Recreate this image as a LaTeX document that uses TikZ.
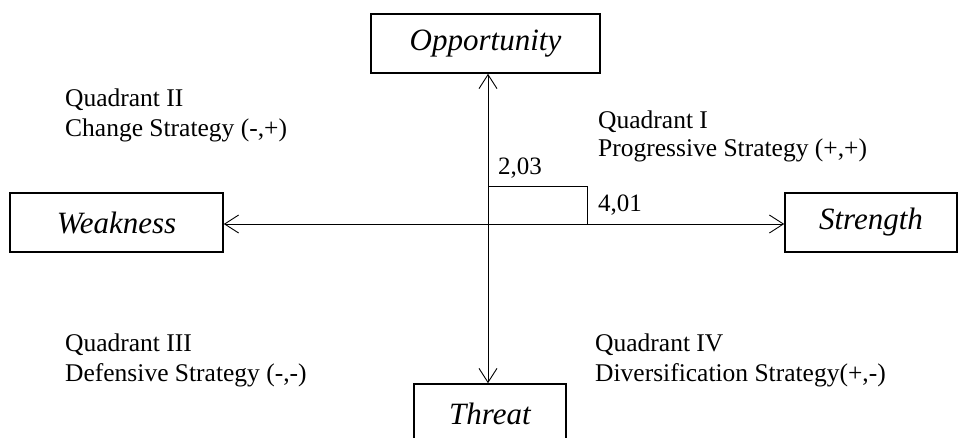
\documentclass[tikz,border=0pt]{standalone}
\usepackage{fontspec}
\setmainfont{Liberation Serif}
\usetikzlibrary{arrows.meta}
\begin{document}
\begin{tikzpicture}[x=1pt,y=-1pt,
  factor/.style={draw,line width=1.6pt,minimum height=59pt,inner sep=0pt,
    font=\fontsize{31}{37}\selectfont\itshape},
  qlabel/.style={anchor=west,align=left,inner sep=0pt,
    font=\fontsize{25.5}{30}\selectfont},
  axis/.style={line width=0.9pt,{Straight Barb[length=14pt,width=18pt]}-{Straight Barb[length=14pt,width=18pt]}},
  val/.style={inner sep=0pt,font=\fontsize{25}{30}\selectfont}]
\useasboundingbox (0,0) rectangle (958,437);
% factor boxes
\node[factor,minimum width=229pt] (opp) at (485.5,43.5) {Opportunity};
\node[factor,minimum width=213pt] (weak) at (116.5,222.5) {Weakness};
\node[factor,minimum width=172pt] (str) at (871,222.5) {Strength};
\node[factor,minimum width=152pt] (thr) at (490,413.5) {Threat};
% axes
\coordinate (o) at (488,224);
\draw[axis] (weak.east |- o) -- (str.west |- o);
\draw[axis] (o |- opp.south) -- (o |- thr.north);
% score rectangle
\coordinate (c1) at (488,186);
\coordinate (c2) at (587,186);
\coordinate (c3) at (587,224);
\draw[line width=0.9pt] (c1) -- (c2) -- (c3);
\node[val,anchor=south west] (v1) at (498,179) {2,03};
\node[val,anchor=south west] (v2) at (598,216) {4,01};
% quadrant labels
\node[qlabel] (q2) at (65,100) {Quadrant II};
\node[qlabel] (q2s) at (65,130) {Change Strategy (-,+)};
\node[qlabel] (q1) at (598,122) {Quadrant I};
\node[qlabel] (q1s) at (598,150) {Progressive Strategy (+,+)};
\node[qlabel] (q3) at (65,345) {Quadrant III};
\node[qlabel] (q3s) at (65,375) {Defensive Strategy (-,-)};
\node[qlabel] (q4) at (595,345) {Quadrant IV};
\node[qlabel] (q4s) at (595,375) {Diversification Strategy(+,-)};
\end{tikzpicture}
\end{document}
